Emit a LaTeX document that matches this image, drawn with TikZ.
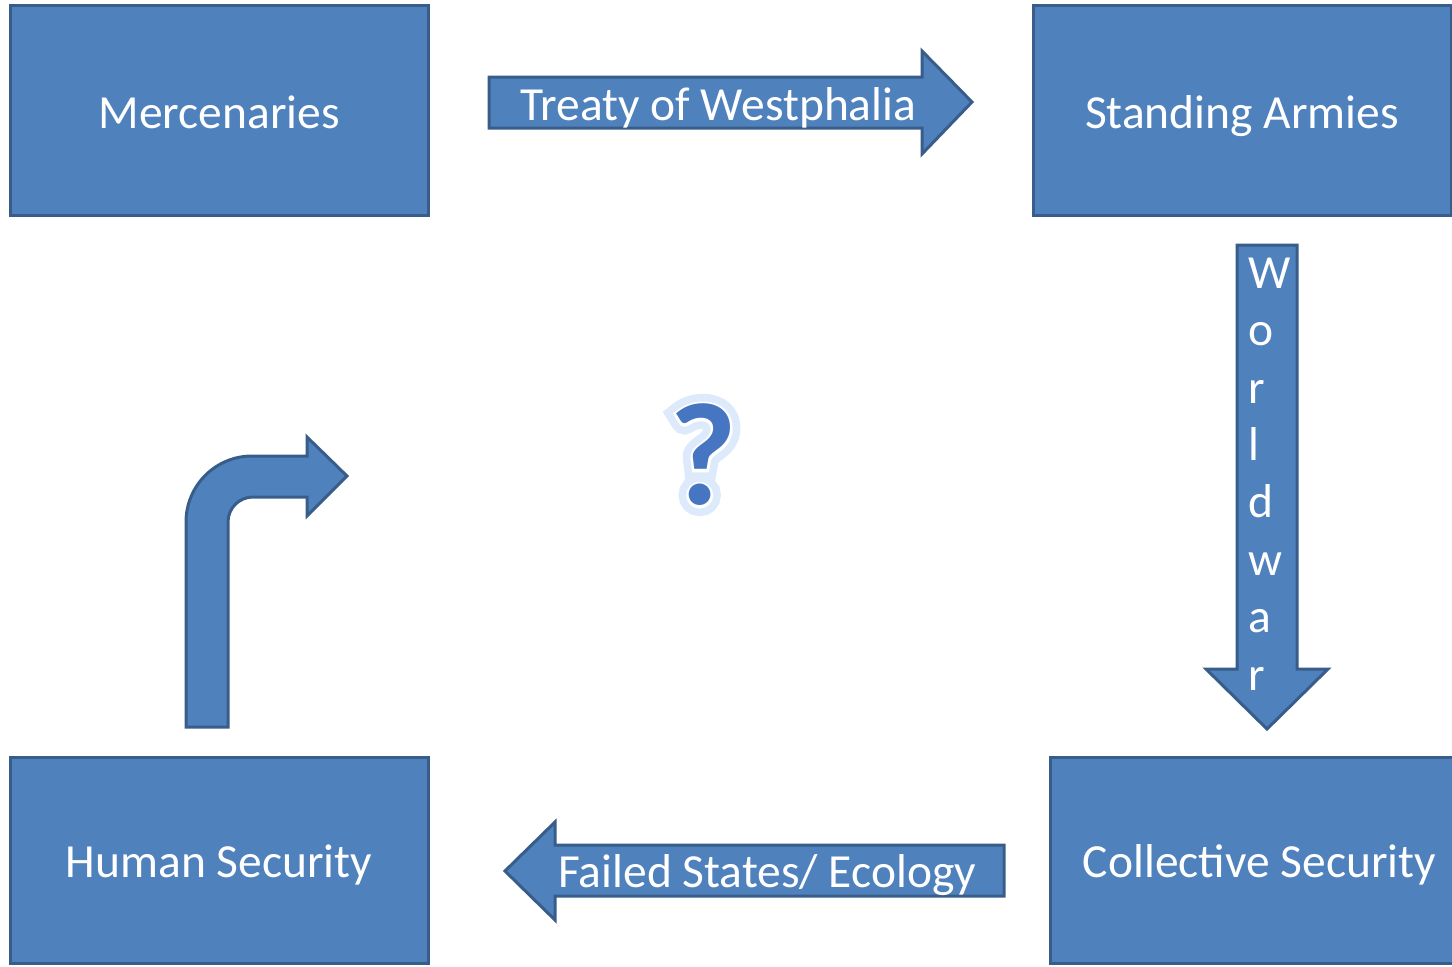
\documentclass[tikz,border=0pt]{standalone}
\usepackage{fontspec}
\setmainfont{Carlito}
\newfontface\qglowfont[FakeBold=14]{Carlito Bold}
\newfontface\qedgefont[FakeBold=3.5]{Carlito Bold}
\newfontface\qfont{Carlito Bold}
\usepackage{tikz}
\definecolor{box_fill}{HTML}{4F81BD}
\definecolor{box_line}{HTML}{385D8A}
\definecolor{q_glow}{HTML}{9CC2F7}
\definecolor{q_blue}{HTML}{4676C2}
\newcommand*{\boxfont}{\fontsize{23.75}{28.7}\selectfont}

\begin{document}
\begin{tikzpicture}[x=0.5pt, y=-0.5pt,
    block_box/.style ={rectangle, draw=box_line, line width=1.5pt, fill=box_fill,
      minimum width=209pt, minimum height=105pt, text=white, font=\boxfont,
      text height=17.5pt, text depth=0pt},
    block_arrow/.style ={draw=box_line, line width=1.5pt, fill=box_fill},
    arrow_label/.style ={anchor=base west, inner sep=0pt, text=white, font=\boxfont},
    q_layer/.style ={inner sep=0pt, font=\fontsize{73}{73}\selectfont}]
    \useasboundingbox (0,0) rectangle (1452,966);
    \clip (0,0) rectangle (1452,966);
    % the four stages
    \node [block_box] (mercenaries) at (219,110.5) {Mercenaries};
    \node [block_box] (standing_armies) at (1242,110.5) {Standing Armies};
    \node [block_box, minimum height=103pt] (human_security) at (219,860) {Human Security};
    \node [block_box, minimum height=103pt] (collective_security) at (1259.5,860) {Collective Security};
    % block arrows between the stages
    \path [block_arrow] (489,77) -- (922,77) -- (922,51) -- (972,102)
      -- (922,154) -- (922,128) -- (489,128) -- cycle;
    \path [block_arrow] (1237,245) -- (1297,245) -- (1297,669) -- (1328,669)
      -- (1267,729) -- (1206,669) -- (1237,669) -- cycle;
    \path [block_arrow] (1004,845) -- (555,845) -- (555,822) -- (505,871)
      -- (555,920) -- (555,896) -- (1004,896) -- cycle;
    \path [block_arrow] (186,727) -- (186,522) arc [start angle=180, end angle=270, radius=66]
      -- (307,456) -- (307,437) -- (347,476) -- (307,516) -- (307,497) -- (253,497)
      arc [start angle=270, end angle=180, radius=25] -- (228,727) -- cycle;
    % labels on the arrows
    \node [arrow_label] (treaty_label) at (520,120) {Treaty of Westphalia};
    \node [arrow_label, anchor=north west, align=left] (worldwar_label) at (1248,257.5)
      {W\\o\\r\\l\\d\\w\\a\\r};
    \node [arrow_label] (failed_label) at (558,887) {Failed States/ Ecology};
    % the question mark: glow, white edge, glyph
    \coordinate (q_center) at (703,455);
    \node [q_layer, text=q_glow, opacity=0.35] (q_halo) at (q_center) {\qglowfont ?};
    \node [q_layer, text=white] (q_edge) at (q_center) {\qedgefont ?};
    \node [q_layer, text=q_blue] (q_mark) at (q_center) {\qfont ?};
  \end{tikzpicture}
\end{document}
